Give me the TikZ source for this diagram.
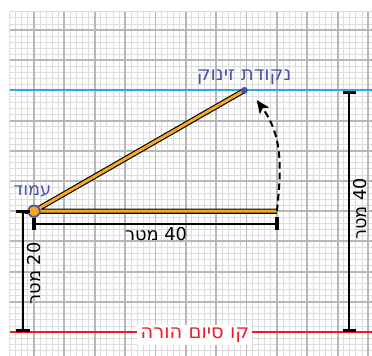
\documentclass[tikz,border=0pt]{standalone}
\usepackage{fontspec}
\setmainfont{DejaVu Sans}
\newfontfamily\heb[Script=Hebrew]{DejaVu Sans}
\TeXXeTstate=1
\usetikzlibrary{arrows.meta}
\definecolor{gridminor}{HTML}{DCDCDC}
\definecolor{gridmajor}{HTML}{B7B7B7}
\definecolor{skyline}{HTML}{29ABE2}
\definecolor{finishred}{HTML}{ED1C24}
\definecolor{rodorange}{HTML}{F7A823}
\definecolor{labelblue}{HTML}{4B54A5}
\begin{document}
\begin{tikzpicture}[x=4.555pt,y=4.53pt,
  gminor/.style={draw=gridminor, line width=0.65pt},
  gmajor/.style={draw=gridmajor, line width=1.4pt},
  skyln/.style={draw=skyline, line width=1.6pt},
  redln/.style={draw=finishred, line width=1.8pt},
  rodout/.style={draw=black, line width=3.9pt},
  rodin/.style={draw=rodorange, line width=2.2pt},
  dimln/.style={draw=black, line width=1.4pt},
  tickln/.style={draw=black, line width=2.5pt},
  arcln/.style={draw=black, line width=1.5pt, dash pattern=on 5pt off 3pt,
    -{Stealth[length=10pt,width=8.5pt,inset=2.5pt]}},
  txt/.style={font=\heb\fontsize{13.3}{16}\selectfont, inner sep=0pt},
  bigtxt/.style={font=\heb\fontsize{14.6}{17.5}\selectfont, inner sep=0pt},
  bluetxt/.style={txt, text=labelblue},
]
\useasboundingbox (-5.599,-23.974) rectangle (55.655,34.967);
% grid
\draw[gminor, step=1] (-4,-24) grid (55.66,33);
\draw[gmajor, step=5] (-4,-24) grid (55.66,33);
% key points
\coordinate (P) at (0,0);
\coordinate (E) at (40,0);
\coordinate (S) at (34.641,20);
\coordinate (T) at (36.67,18.4);
% reference lines
\coordinate (B1) at (-4,20);
\coordinate (B2) at (55.66,20);
\coordinate (R1) at (-4,-20);
\coordinate (R2) at (55.66,-20);
\draw[skyln] (B1) -- (B2);
\draw[redln] (R1) -- (R2);
% rod
\draw[rodout] (S) -- (P) -- (E);
\draw[rodin] (S) -- (P) -- (E);
% rotation arc
\draw[arcln] (E) to[out=84,in=-54] (T);
% points
\node[circle, fill=labelblue, inner sep=0pt, minimum size=5.2pt] (start) at (S) {};
\node[circle, fill=rodorange, draw=labelblue, line width=1.3pt, inner sep=0pt, minimum size=8.6pt] (pole) at (P) {};
% labels
\node[bigtxt, text=labelblue, anchor=base] (startlbl) at (34.6,21.6) {\beginR נקודת זינוק\endR};
\node[bluetxt, anchor=base] (polelbl) at (-0.25,2.55) {\beginR עמוד\endR};
\node[bigtxt, text=finishred, fill=white, inner xsep=2.5pt, inner ysep=2pt, anchor=base] (finish) at (26.5,-21.05) {\beginR קו סיום הורה\endR};
% bottom dimension (40 m)
\coordinate (h1) at (0,-2.05);
\coordinate (h2) at (40,-2.05);
\coordinate (h1a) at (0,-1.05);
\coordinate (h1b) at (0,-3.1);
\coordinate (h2a) at (40,-1.0);
\coordinate (h2b) at (40,-3.1);
\draw[dimln] (h1) -- (h2);
\draw[tickln] (h1a) -- (h1b);
\draw[tickln] (h2a) -- (h2b);
\node[txt, anchor=base] (hlbl) at (20.1,-4.93) {\beginR 40 מטר\endR};
% left dimension (20 m)
\coordinate (l1) at (-1.86,0);
\coordinate (l2) at (-1.86,-19.7);
\coordinate (l1a) at (-3.0,0);
\coordinate (l1b) at (-0.7,0);
\coordinate (l2a) at (-3.0,-19.7);
\coordinate (l2b) at (-0.7,-19.7);
\draw[dimln] (l1) -- (l2);
\draw[tickln] (l1a) -- (l1b);
\draw[tickln] (l2a) -- (l2b);
\node[txt, anchor=base, rotate=90] (llbl) at (1.0,-10.3) {\beginR 20 מטר\endR};
% right dimension (40 m)
\coordinate (r1) at (51.92,19.65);
\coordinate (r2) at (51.92,-19.7);
\coordinate (r1a) at (50.85,19.65);
\coordinate (r1b) at (53.1,19.65);
\coordinate (r2a) at (50.85,-19.7);
\coordinate (r2b) at (53.1,-19.7);
\draw[dimln] (r1) -- (r2);
\draw[tickln] (r1a) -- (r1b);
\draw[tickln] (r2a) -- (r2b);
\node[txt, anchor=base, rotate=90] (rlbl) at (54.8,0.4) {\beginR 40 מטר\endR};
\end{tikzpicture}
\end{document}
